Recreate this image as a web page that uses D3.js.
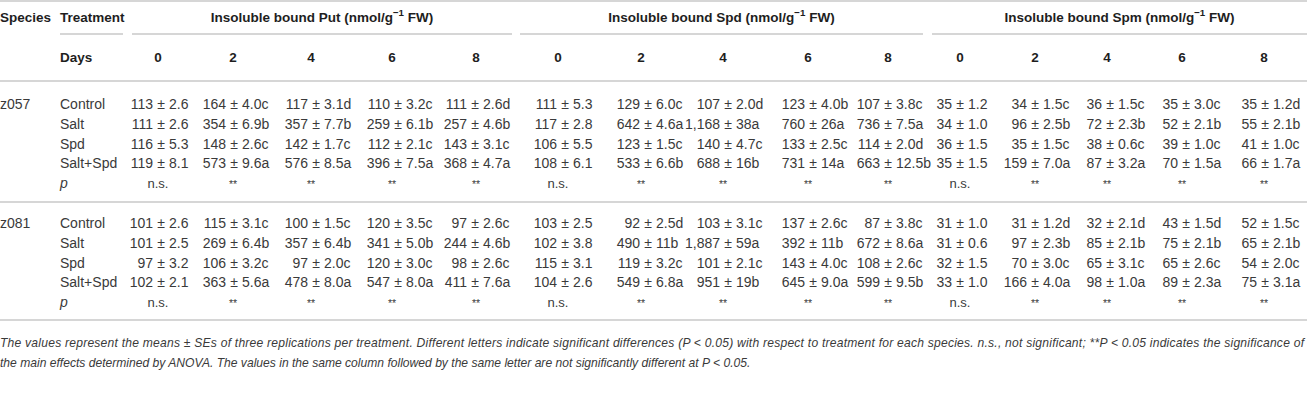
<!DOCTYPE html>
<html>
<head>
<meta charset="utf-8">
<script src="https://cdn.jsdelivr.net/npm/d3@7"></script>
<style>
  body { margin: 0; background: #fff; }
  text { font-family: "Liberation Sans", Arial, sans-serif; }
</style>
</head>
<body>
<div id="table"></div>
<script>
// columns: Put d0..d8, Spd d0..d8, Spm d0..d8
const days = [0, 2, 4, 6, 8];
const compounds = ["Put", "Spd", "Spm"];
const species = ["z057", "z081"];
const treatments = ["Control", "Salt", "Spd", "Salt+Spd"];

const z057Means = [
    [113, 164, 117, 110, 111, 111, 129, 107, 123, 107, 35, 34, 36, 35, 35],
    [111, 354, 357, 259, 257, 117, 642, 1168, 760, 736, 34, 96, 72, 52, 55],
    [116, 148, 142, 112, 143, 106, 123, 140, 133, 114, 36, 35, 38, 39, 41],
    [119, 573, 576, 396, 368, 108, 533, 688, 731, 663, 35, 159, 87, 70, 66]
];
const z057SEs = [
    ["2.6", "4.0", "3.1", "3.2", "2.6", "5.3", "6.0", "2.0", "4.0", "3.8", "1.2", "1.5", "1.5", "3.0", "1.2"],
    ["2.6", "6.9", "7.7", "6.1", "4.6", "2.8", "4.6", "38", "26", "7.5", "1.0", "2.5", "2.3", "2.1", "2.1"],
    ["5.3", "2.6", "1.7", "2.1", "3.1", "5.5", "1.5", "4.7", "2.5", "2.0", "1.5", "1.5", "0.6", "1.0", "1.0"],
    ["8.1", "9.6", "8.5", "7.5", "4.7", "6.1", "6.6", "16", "14", "12.5", "1.5", "7.0", "3.2", "1.5", "1.7"]
];
const z057Letters = [
    ["", "c", "d", "c", "d", "", "c", "d", "b", "c", "", "c", "c", "c", "d"],
    ["", "b", "b", "b", "b", "", "a", "a", "a", "a", "", "b", "b", "b", "b"],
    ["", "c", "c", "c", "c", "", "c", "c", "c", "d", "", "c", "c", "c", "c"],
    ["", "a", "a", "a", "a", "", "b", "b", "a", "b", "", "a", "a", "a", "a"]
];
const z057P = ["n.s.", "**", "**", "**", "**", "n.s.", "**", "**", "**", "**", "n.s.", "**", "**", "**", "**"];

const z081Means = [
    [101, 115, 100, 120, 97, 103, 92, 103, 137, 87, 31, 31, 32, 43, 52],
    [101, 269, 357, 341, 244, 102, 490, 1887, 392, 672, 31, 97, 85, 75, 65],
    [97, 106, 97, 120, 98, 115, 119, 101, 143, 108, 32, 70, 65, 65, 54],
    [102, 363, 478, 547, 411, 104, 549, 951, 645, 599, 33, 166, 98, 89, 75]
];
const z081SEs = [
    ["2.6", "3.1", "1.5", "3.5", "2.6", "2.5", "2.5", "3.1", "2.6", "3.8", "1.0", "1.2", "2.1", "1.5", "1.5"],
    ["2.5", "6.4", "6.4", "5.0", "4.6", "3.8", "11", "59", "11", "8.6", "0.6", "2.3", "2.1", "2.1", "2.1"],
    ["3.2", "3.2", "2.0", "3.0", "2.6", "3.1", "3.2", "2.1", "4.0", "2.6", "1.5", "3.0", "3.1", "2.6", "2.0"],
    ["2.1", "5.6", "8.0", "8.0", "7.6", "2.6", "6.8", "19", "9.0", "9.5", "1.0", "4.0", "1.0", "2.3", "3.1"]
];
const z081Letters = [
    ["", "c", "c", "c", "c", "", "d", "c", "c", "c", "", "d", "d", "d", "c"],
    ["", "b", "b", "b", "b", "", "b", "a", "b", "a", "", "b", "b", "b", "b"],
    ["", "c", "c", "c", "c", "", "c", "c", "c", "c", "", "c", "c", "c", "c"],
    ["", "a", "a", "a", "a", "", "a", "b", "a", "b", "", "a", "a", "a", "a"]
];
const z081P = ["n.s.", "**", "**", "**", "**", "n.s.", "**", "**", "**", "**", "n.s.", "**", "**", "**", "**"];

const footnote = [
    "The values represent the means \u00b1 SEs of three replications per treatment. Different letters indicate significant differences (P < 0.05) with respect to treatment for each species. n.s., not significant; **P < 0.05 indicates the significance of",
    "the main effects determined by ANOVA. The values in the same column followed by the same letter are not significantly different at P < 0.05."
];

const blocks = [
    {name: species[0], means: z057Means, ses: z057SEs, letters: z057Letters, p: z057P},
    {name: species[1], means: z081Means, ses: z081SEs, letters: z081Letters, p: z081P}
];

// ---- layout ----
const WIDTH = 1307, HEIGHT = 401;
const HFS = 13.5, FS = 14;
const GRAY = "#3a3a3a", DARK = "#1e1e1e", RULE = "#c9c9c9";

// column header centres and the x of the "±" in each column
const headX = [158, 233, 311, 392, 476, 558, 641, 723, 808, 888, 960, 1035, 1107, 1182, 1264];
const pmX = [161, 234, 316, 398, 475, 565, 648, 728, 813, 888, 960, 1035, 1110, 1186, 1265];
const groupSpan = [[132, 512], [520, 923], [932, 1307]];
const treatX = 60;

const blockY = d3.scaleOrdinal().domain(species).range([104, 223]);
const rowY = d3.scaleLinear().domain([0, 4]).range([0, 79]);

const svg = d3.select("#table").append("svg")
    .attr("width", WIDTH)
    .attr("height", HEIGHT)
    .attr("viewBox", `0 0 ${WIDTH} ${HEIGHT}`);

// rules
[1, 81, 202, 320].forEach(y => {
    svg.append("line")
        .attr("x1", 0).attr("x2", WIDTH)
        .attr("y1", y).attr("y2", y)
        .attr("stroke", RULE).attr("stroke-width", 1.5);
});
[[treatX, 123]].concat(groupSpan).forEach(s => {
    svg.append("line")
        .attr("x1", s[0]).attr("x2", s[1])
        .attr("y1", 34).attr("y2", 34)
        .attr("stroke", RULE).attr("stroke-width", 1.5);
});

const head = svg.append("g")
    .attr("font-size", HFS)
    .attr("font-weight", "bold")
    .attr("fill", DARK)
    .attr("dominant-baseline", "central");

head.append("text").attr("x", 0).attr("y", 17).text("Species");
head.append("text").attr("x", treatX).attr("y", 17).text("Treatment");
head.append("text").attr("x", treatX).attr("y", 57).text("Days");

compounds.forEach((c, i) => {
    const t = head.append("text")
        .attr("x", (groupSpan[i][0] + groupSpan[i][1]) / 2)
        .attr("y", 17)
        .attr("text-anchor", "middle");
    t.append("tspan").text(`Insoluble bound ${c} (nmol/g`);
    t.append("tspan").attr("font-size", HFS * 0.72).attr("dy", -5).text("\u22121");
    t.append("tspan").attr("dy", 5).text(" FW)");
});

head.selectAll(".day")
    .data(d3.range(15))
    .join("text")
    .attr("class", "day")
    .attr("x", j => headX[j])
    .attr("y", 57)
    .attr("text-anchor", "middle")
    .text(j => days[j % days.length]);

// body
const body = svg.append("g")
    .attr("font-size", FS)
    .attr("fill", GRAY)
    .attr("dominant-baseline", "central");

const gap = FS * 0.57;

blocks.forEach(b => {
    const y0 = blockY(b.name);
    body.append("text").attr("x", 0).attr("y", y0).text(b.name);

    treatments.forEach((t, i) => {
        const y = y0 + rowY(i);
        body.append("text").attr("x", treatX).attr("y", y).text(t);

        const cells = d3.range(15).map(j => ({
            j: j,
            mean: d3.format(",")(b.means[i][j]),
            se: b.ses[i][j] + b.letters[i][j]
        }));

        const g = body.append("g");
        g.selectAll(".mean").data(cells).join("text")
            .attr("class", "mean")
            .attr("x", d => pmX[d.j] - gap)
            .attr("y", y)
            .attr("text-anchor", "end")
            .text(d => d.mean);
        g.selectAll(".pm").data(cells).join("text")
            .attr("class", "pm")
            .attr("x", d => pmX[d.j])
            .attr("y", y)
            .attr("text-anchor", "middle")
            .text("\u00b1");
        g.selectAll(".se").data(cells).join("text")
            .attr("class", "se")
            .attr("x", d => pmX[d.j] + gap)
            .attr("y", y)
            .attr("text-anchor", "start")
            .text(d => d.se);
    });

    const yp = y0 + rowY(4);
    body.append("text")
        .attr("x", treatX).attr("y", yp)
        .attr("font-style", "italic")
        .text("p");
    body.append("g").selectAll("text")
        .data(b.p)
        .join("text")
        .attr("x", (d, j) => headX[j])
        .attr("y", d => d === "**" ? yp + 1 : yp)
        .attr("text-anchor", "middle")
        .attr("font-size", d => d === "**" ? FS * 0.75 : FS * 0.93)
        .text(d => d);
});

// footnote
svg.append("g")
    .attr("font-size", 12.1)
    .attr("font-style", "italic")
    .attr("fill", GRAY)
    .attr("dominant-baseline", "central")
    .selectAll("text")
    .data(footnote)
    .join("text")
    .attr("x", 0)
    .attr("y", (d, i) => 343 + i * 20)
    .text(d => d)
    .each(function (d, i) {
        if (i === 0) d3.select(this).attr("textLength", 1304).attr("lengthAdjust", "spacing");
    });
</script>
</body>
</html>
